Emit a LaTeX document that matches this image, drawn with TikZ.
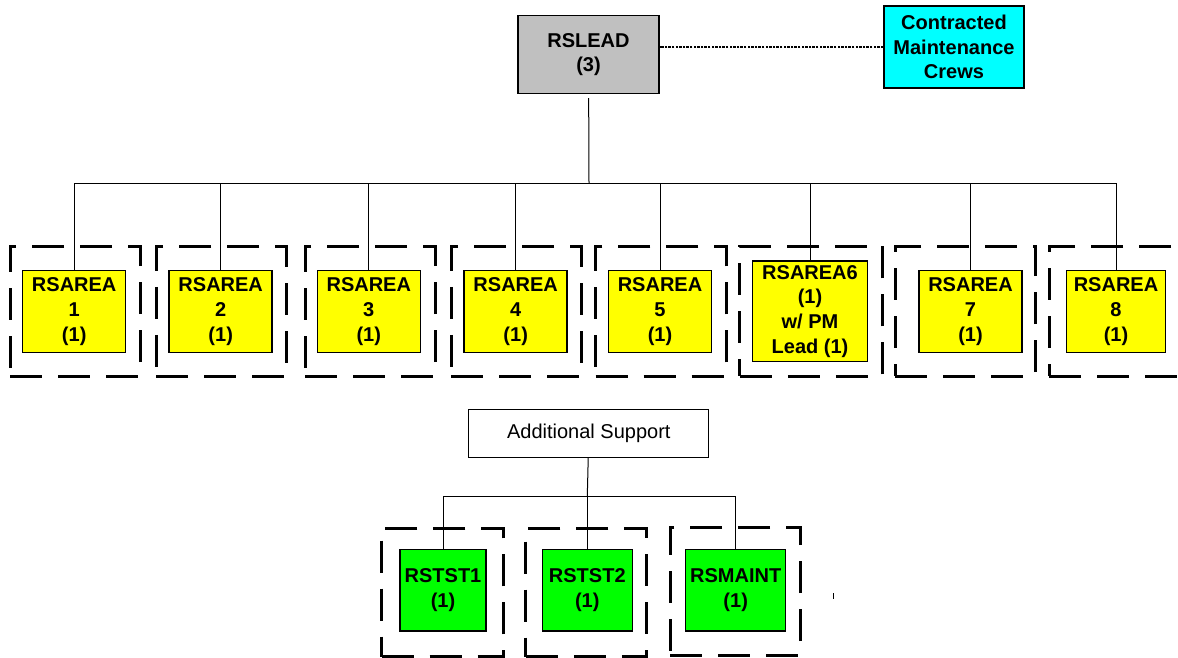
\documentclass[tikz,border=0pt]{standalone}
\usepackage{fontspec}
\setmainfont{Liberation Sans}
\definecolor{leadgray}{RGB}{192,192,192}
\definecolor{areayellow}{RGB}{255,255,0}
\definecolor{crewcyan}{RGB}{0,255,255}
\definecolor{supportgreen}{RGB}{0,255,0}

\begin{document}
\begin{tikzpicture}[x=0.5pt, y=-0.5pt,
  box/.style={draw, line width=0.75pt, inner sep=0pt, align=center,
    font=\bfseries\fontsize{10}{12.3}\selectfont},
  area node/.style={box, fill=areayellow, minimum width=51.5pt, minimum height=40.8pt},
  support node/.style={box, fill=supportgreen, minimum height=40.6pt},
  group/.style={draw, line width=1.5pt, dash pattern=on 16pt off 8pt,
    inner sep=0pt, minimum height=65pt},
  link/.style={line width=0.5pt}]
\path[use as bounding box, clip] (0,0) rectangle (1178,658);

% top of the chart
\node[box, fill=leadgray, minimum width=70.5pt, minimum height=38.8pt] (lead) at (588.5,54.5) {RSLEAD\\(3)};
\node[box, fill=crewcyan, minimum width=70pt, minimum height=41pt] (crews) at (954,47) {Contracted\\Maintenance\\Crews};
\coordinate (bus) at (589,183.3);

% dashed groups
\node[group, minimum width=65pt]   (g1) at (75,311) {};
\node[group, minimum width=65.3pt] (g2) at (221.3,311) {};
\node[group, minimum width=65pt]   (g3) at (370,311) {};
\node[group, minimum width=65.3pt] (g4) at (516.3,311) {};
\node[group, minimum width=65.2pt] (g5) at (660.8,311) {};
\node[group, minimum width=71.2pt] (g6) at (811,311) {};
\node[group, minimum width=70pt]   (g7) at (965,311) {};
\node[group, minimum width=70pt]   (g8) at (1119,311) {};

% areas
\node[area node] (a1) at (74.2,311.5) {RSAREA\\1\\(1)};
\node[area node] (a2) at (220.7,311.5) {RSAREA\\2\\(1)};
\node[area node] (a3) at (368.8,311.5) {RSAREA\\3\\(1)};
\node[area node] (a4) at (515.7,311.5) {RSAREA\\4\\(1)};
\node[area node] (a5) at (660,311.5) {RSAREA\\5\\(1)};
\node[area node, minimum width=57.7pt, minimum height=50.3pt] (a6) at (810,311.3) {RSAREA6\\(1)\\w/ PM\\Lead (1)};
\node[area node] (a7) at (970.5,311.5) {RSAREA\\7\\(1)};
\node[area node, minimum width=49.5pt] (a8) at (1116,311.5) {RSAREA\\8\\(1)};

\draw[line width=0.75pt, dash pattern=on 1.2pt off 0.6pt] (crews.west) -- (crews.west -| lead.east);
\draw[link, shorten <=2pt] (lead) -- (bus);
\draw[link] (bus) -| (a1.north);
\draw[link] (bus) -| (a2.north);
\draw[link] (bus) -| (a3.north);
\draw[link] (bus) -| (a4.north);
\draw[link] (bus) -| (a5.north);
\draw[link] (bus) -| (a6.north);
\draw[link] (bus) -| (a7.north);
\draw[link] (bus) -| (a8.north);

% additional support
\node[draw, line width=0.5pt, minimum width=120pt, minimum height=24pt, inner sep=0pt,
  font=\fontsize{10}{12}\selectfont] (extra) at (588.8,433.5) {Additional Support};
\coordinate (sbus) at (587.3,496.3);

\node[group, minimum width=60.8pt, minimum height=64.2pt] (ga) at (442.5,592.5) {};
\node[group, minimum width=60.4pt, minimum height=64.4pt] (gb) at (586.3,592.5) {};
\node[group, minimum width=65pt, minimum height=64pt]     (gc) at (735,591) {};

\node[support node, minimum width=43pt] (s1) at (443,590.3) {RSTST1\\(1)};
\node[support node, minimum width=45pt] (s2) at (587.3,590.3) {RSTST2\\(1)};
\node[support node, minimum width=50pt] (s3) at (735.7,590.3) {RSMAINT\\(1)};

\draw[link] (extra) -- (sbus);
\draw[link] (sbus) -| (s1.north);
\draw[link] (sbus) -| (s2.north);
\draw[link] (sbus) -| (s3.north);
\draw[link] (833.7,593.3) -- (833.7,599.3);
\end{tikzpicture}
\end{document}
